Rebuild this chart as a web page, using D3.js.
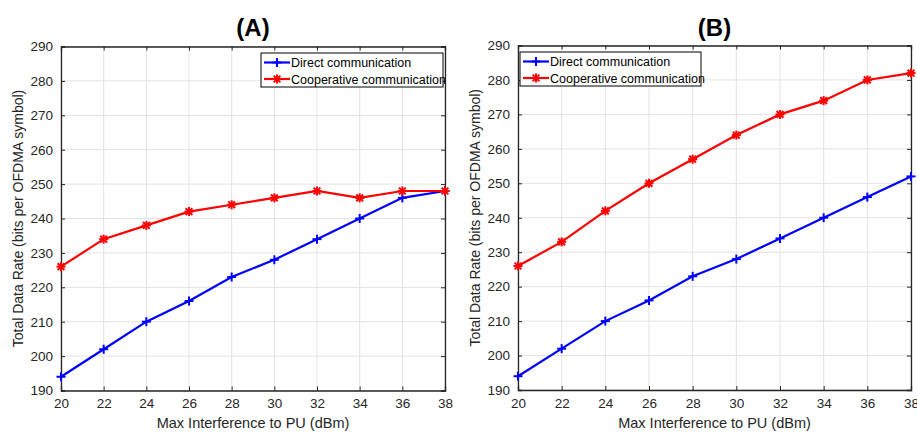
<!DOCTYPE html>
<html><head><meta charset="utf-8">
<script src="https://cdn.jsdelivr.net/npm/d3@7"></script>
<style>body{margin:0;background:#fff}svg{display:block;font-family:"Liberation Sans",Arial,Helvetica,sans-serif}</style>
</head><body><svg id="c" width="917" height="434"></svg>
<script>
const xValues = [20,22,24,26,28,30,32,34,36,38];
const xTicks = [20,22,24,26,28,30,32,34,36,38];
const yTicks = [190,200,210,220,230,240,250,260,270,280,290];
const directA = [194,202,210,216,223,228,234,240,246,248];
const coopA = [226,234,238,242,244,246,248,246,248,248];
const directB = [194,202,210,216,223,228,234,240,246,252];
const coopB = [226,233,242,250,257,264,270,274,280,282];
const seriesNames = ["Direct communication","Cooperative communication"];
const titles = ["(A)","(B)"];
const xLabel = "Max Interference to PU (dBm)";
const yLabel = "Total Data Rate (bits per OFDMA symbol)";

const svg = d3.select("#c");
const panels = [
  {title:titles[0], data:[directA,coopA], x0:61, x1:445, y0:46.5, y1:390.5, legend:{x:261,y:53,w:182,h:34}},
  {title:titles[1], data:[directB,coopB], x0:518, x1:911, y0:45.5, y1:390, legend:{x:520,y:52,w:181,h:34}}
];
const colors = ["#0000ff","#ff0000"];
const axisColor = "#262626";

function marker(g, type, color, cx, cy) {
  const s = 4.5;
  const m = g.append("g").attr("transform",`translate(${cx},${cy})`).attr("stroke",color).attr("stroke-width",2).attr("fill","none");
  m.append("line").attr("x1",-s).attr("x2",s).attr("y1",0).attr("y2",0);
  m.append("line").attr("x1",0).attr("x2",0).attr("y1",-s).attr("y2",s);
  if (type === 1) {
    const d = s*0.75;
    m.append("line").attr("x1",-d).attr("x2",d).attr("y1",-d).attr("y2",d);
    m.append("line").attr("x1",-d).attr("x2",d).attr("y1",d).attr("y2",-d);
  }
}

panels.forEach(p => {
  const x = d3.scaleLinear().domain([20,38]).range([p.x0,p.x1]);
  const y = d3.scaleLinear().domain([190,290]).range([p.y1,p.y0]);
  const g = svg.append("g");
  g.append("g").selectAll("line").data(xTicks).join("line")
    .attr("x1",d=>x(d)).attr("x2",d=>x(d)).attr("y1",p.y0).attr("y2",p.y1)
    .attr("stroke","#e3e3e3").attr("stroke-width",1);
  g.append("g").selectAll("line").data(yTicks).join("line")
    .attr("y1",d=>y(d)).attr("y2",d=>y(d)).attr("x1",p.x0).attr("x2",p.x1)
    .attr("stroke","#e3e3e3").attr("stroke-width",1);
  const tk = 4;
  const bottom = g.append("g").attr("transform",`translate(0,${p.y1})`)
    .call(d3.axisBottom(x).tickValues(xTicks).tickSize(-tk).tickPadding(8).tickFormat(d3.format("d")));
  const top = g.append("g").attr("transform",`translate(0,${p.y0})`)
    .call(d3.axisTop(x).tickValues(xTicks).tickSize(-tk).tickFormat(""));
  const left = g.append("g").attr("transform",`translate(${p.x0},0)`)
    .call(d3.axisLeft(y).tickValues(yTicks).tickSize(-tk).tickPadding(8).tickFormat(d3.format("d")));
  const right = g.append("g").attr("transform",`translate(${p.x1},0)`)
    .call(d3.axisRight(y).tickValues(yTicks).tickSize(-tk).tickFormat(""));
  [bottom,top,left,right].forEach(a => {
    a.selectAll("path").attr("stroke",axisColor).attr("stroke-width",1.3);
    a.selectAll("line").attr("stroke",axisColor).attr("stroke-width",1);
    a.selectAll("text").attr("fill",axisColor).style("font-size","13.5px").style("font-family","'Liberation Sans',Arial,sans-serif");
  });
  p.data.forEach((vals,i) => {
    const line = d3.line().x((d,j)=>x(xValues[j])).y(d=>y(d));
    g.append("path").datum(vals).attr("d",line).attr("fill","none").attr("stroke",colors[i]).attr("stroke-width",2.2);
    vals.forEach((v,j)=>marker(g,i,colors[i],x(xValues[j]),y(v)));
  });
  g.append("text").attr("x",(p.x0+p.x1)/2).attr("y",36).attr("text-anchor","middle")
    .style("font-size","24px").style("font-weight","bold").attr("fill","#000").text(p.title);
  g.append("text").attr("x",(p.x0+p.x1)/2).attr("y",428).attr("text-anchor","middle")
    .style("font-size","14.5px").attr("fill",axisColor).text(xLabel);
  g.append("text").attr("transform",`translate(${p.x0-38.5},${(p.y0+p.y1)/2}) rotate(-90)`).attr("text-anchor","middle")
    .style("font-size","14px").attr("fill",axisColor).text(yLabel);
  const L = p.legend;
  const lg = g.append("g");
  lg.append("rect").attr("x",L.x).attr("y",L.y).attr("width",L.w).attr("height",L.h).attr("fill","#fff").attr("stroke","#000").attr("stroke-width",1);
  seriesNames.forEach((n,i) => {
    const ry = L.y + 9.5 + i*16.5;
    lg.append("line").attr("x1",L.x+3).attr("x2",L.x+29).attr("y1",ry).attr("y2",ry).attr("stroke",colors[i]).attr("stroke-width",2.2);
    marker(lg,i,colors[i],L.x+16,ry);
    lg.append("text").attr("x",L.x+30).attr("y",ry+4.5).style("font-size","12.5px").attr("fill","#000").text(n);
  });
});
</script></body></html>
